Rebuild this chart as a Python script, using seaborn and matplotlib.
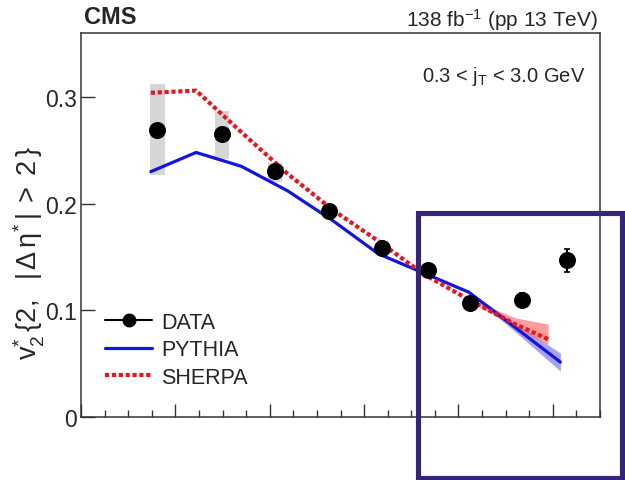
import numpy as np
import matplotlib
matplotlib.use("Agg")
import matplotlib.pyplot as plt
import seaborn as sns
from matplotlib.lines import Line2D
from matplotlib.patches import Rectangle
from matplotlib.ticker import MultipleLocator, NullFormatter, FixedLocator

# ---------------- data ----------------
data_x = [0.81, 1.49, 2.06, 2.63, 3.19, 3.68, 4.12, 4.67, 5.15]
data_y = [0.269, 0.265, 0.2305, 0.193, 0.158, 0.1375, 0.1066, 0.1097, 0.1469]
stat_err = [0.002, 0.002, 0.002, 0.002, 0.002, 0.003, 0.004, 0.007, 0.011]
sys_lo = [0.2265, 0.2415, 0.220, 0.188, 0.155, 0.135, 0.104, 0.106, 0.144]
sys_hi = [0.312, 0.2865, 0.2385, 0.198, 0.161, 0.140, 0.109, 0.114, 0.150]

pythia_x = [0.74, 1.22, 1.70, 2.19, 2.67, 3.15, 3.63, 4.11, 4.60, 5.08]
pythia_y = [0.230, 0.248, 0.235, 0.212, 0.184, 0.153, 0.135, 0.117, 0.084, 0.0515]
pythia_band_x = [4.11, 4.60, 5.08]
pythia_band_lo = [0.116, 0.080, 0.043]
pythia_band_hi = [0.118, 0.088, 0.060]

sherpa_x = [0.74, 1.22, 1.70, 2.19, 2.67, 3.15, 3.63, 4.11, 4.60, 4.95]
sherpa_y = [0.304, 0.306, 0.267, 0.228, 0.194, 0.165, 0.134, 0.110, 0.087, 0.073]
sherpa_band_x = [4.11, 4.60, 4.95]
sherpa_band_lo = [0.109, 0.084, 0.068]
sherpa_band_hi = [0.111, 0.093, 0.087]

y_ticks = [0.0, 0.1, 0.2, 0.3]
y_tick_labels = ["0", "0.1", "0.2", "0.3"]
legend_labels = ["DATA", "PYTHIA", "SHERPA"]

# ---------------- style ----------------
sns.set_style("ticks")
plt.rcParams["font.family"] = ["Liberation Sans", "DejaVu Sans"]
plt.rcParams["mathtext.fontset"] = "custom"
plt.rcParams["mathtext.rm"] = "Liberation Sans"
plt.rcParams["mathtext.it"] = "Liberation Sans:italic"
plt.rcParams["mathtext.default"] = "regular"

BLUE = "#1414dc"
RED = "#e8141e"

fig = plt.figure(figsize=(6.25, 4.81), dpi=100)
ax = fig.add_axes([0.1296, 0.131, 0.8304, 0.7983])

# systematic boxes
sys_h = [h - l for h, l in zip(sys_hi, sys_lo)]
ax.bar(data_x, sys_h, bottom=sys_lo, width=0.15, color="#d6d6d6",
       edgecolor="none", zorder=1)

# model bands
ax.fill_between(pythia_band_x, pythia_band_lo, pythia_band_hi,
                color="#6a6af0", alpha=0.6, lw=0, zorder=2)
ax.fill_between(sherpa_band_x, sherpa_band_lo, sherpa_band_hi,
                color="#ff5a5a", alpha=0.6, lw=0, zorder=2)

# model lines
sns.lineplot(x=pythia_x, y=pythia_y, ax=ax, color=BLUE, lw=2.3,
             sort=False, zorder=3)
sns.lineplot(x=sherpa_x, y=sherpa_y, ax=ax, color=RED, lw=3.0,
             sort=False, zorder=4, linestyle=(0, (1, 0.65)))

# data
ax.errorbar(data_x, data_y, yerr=stat_err, fmt="none", ecolor="black",
            elinewidth=1.5, capsize=2, capthick=1.2, zorder=5)
sns.scatterplot(x=data_x, y=data_y, ax=ax, color="black", s=150,
                edgecolor="black", linewidth=0, zorder=6)

# axes
ax.set_xlim(0, 5.5)
ax.set_ylim(0, 0.36)
ax.xaxis.set_major_locator(MultipleLocator(1))
ax.xaxis.set_minor_locator(MultipleLocator(0.25))
ax.xaxis.set_major_formatter(NullFormatter())
ax.yaxis.set_major_locator(FixedLocator(y_ticks))
ax.set_yticklabels(y_tick_labels)
ax.tick_params(axis="x", which="major", direction="in", length=9.5,
               width=1.0, bottom=True, top=False, color="#333333")
ax.tick_params(axis="x", which="minor", direction="in", length=5,
               width=1.0, bottom=True, top=False, color="#333333")
ax.tick_params(axis="y", which="major", direction="in", length=10,
               width=1.0, left=True, right=False, labelsize=16.5, pad=3,
               color="#333333")
ax.tick_params(axis="y", which="minor", left=False, right=False)
for sp in ax.spines.values():
    sp.set_visible(True)
    sp.set_linewidth(1.1)
    sp.set_color("#333333")

ax.set_ylabel(r"$v_{2}^{*}\,\{2,\ \ |\,\Delta\,\eta^{*}\,|\;>\;2\,\}$",
              fontsize=19.5)
ax.yaxis.set_label_coords(-0.066, 0.43)

# legend
handles = [
    Line2D([], [], color="black", lw=1.5, marker="o", markersize=9),
    Line2D([], [], color=BLUE, lw=2.3),
    Line2D([], [], color=RED, lw=3.0, linestyle=(0, (1, 0.65))),
]
ax.legend(handles, legend_labels, loc="upper left",
          bbox_to_anchor=(105 / 625, 1 - 313 / 481),
          bbox_transform=fig.transFigure, frameon=False, fontsize=15.5,
          handlelength=2.2, handletextpad=0.4, labelspacing=0.3,
          borderpad=0, borderaxespad=0)

# texts
fig.text(84 / 625, 1 - 24 / 481, "CMS", fontsize=17, fontweight="bold",
         ha="left", va="baseline")
fig.text(598 / 625, 1 - 26.7 / 481, r"138 fb$^{-1}$ (pp 13 TeV)",
         fontsize=15, ha="right", va="baseline")
fig.text(585 / 625, 1 - 81.7 / 481, r"0.3 < $j_{T}$ < 3.0 GeV",
         fontsize=14.5, ha="right", va="baseline")

# highlight rectangle
fig.add_artist(Rectangle((418 / 625, 2.5 / 481), (622 - 418) / 625,
                         (479 - 214) / 481, transform=fig.transFigure,
                         fill=False, edgecolor="#372378", lw=3.7,
                         clip_on=False, zorder=10))

fig.savefig("out.png", dpi=100)
